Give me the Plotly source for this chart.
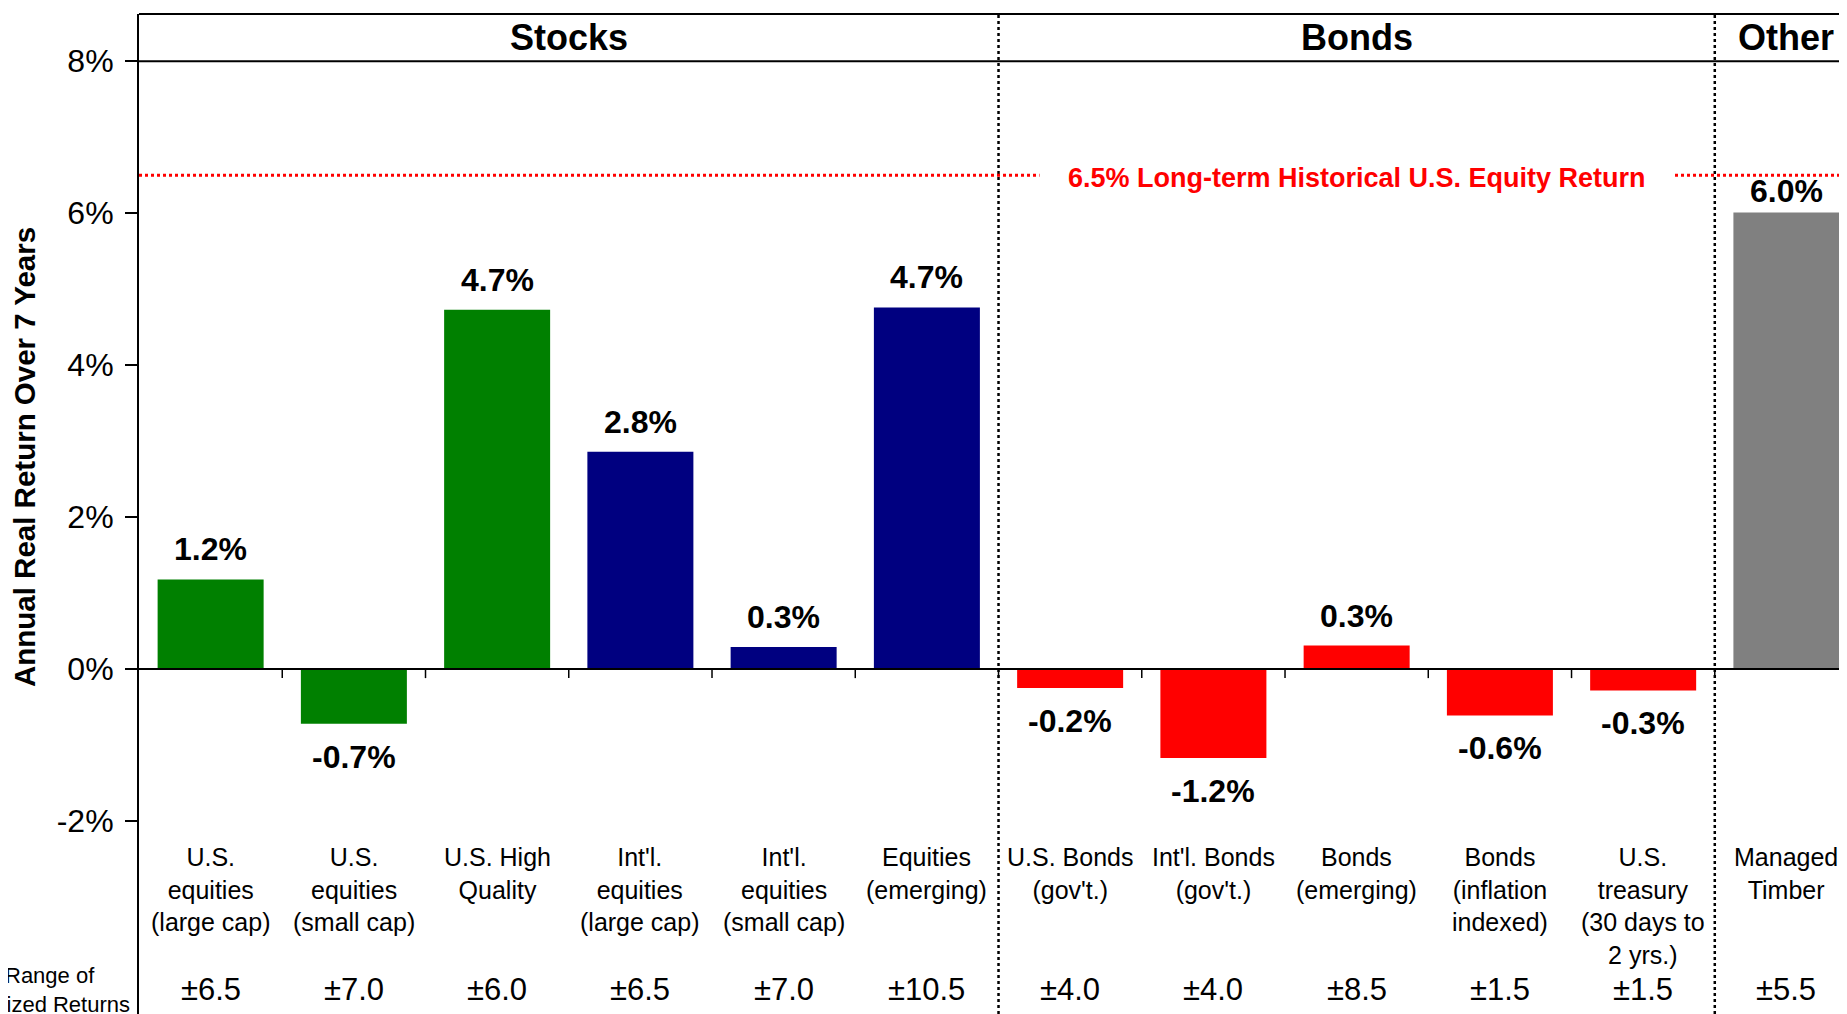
import plotly.graph_objects as go

# ---------------- data ----------------
categories = [
    "U.S.<br>equities<br>(large cap)",
    "U.S.<br>equities<br>(small cap)",
    "U.S. High<br>Quality",
    "Int'l.<br>equities<br>(large cap)",
    "Int'l.<br>equities<br>(small cap)",
    "Equities<br>(emerging)",
    "U.S. Bonds<br>(gov't.)",
    "Int'l. Bonds<br>(gov't.)",
    "Bonds<br>(emerging)",
    "Bonds<br>(inflation<br>indexed)",
    "U.S.<br>treasury<br>(30 days to<br>2 yrs.)",
    "Managed<br>Timber",
]
groups = ["Stocks"] * 6 + ["Bonds"] * 5 + ["Other"]
asset_types = ["US equity"] * 3 + ["Intl equity"] * 3 + ["Bond"] * 5 + ["Alternative"]
returns = [1.18, -0.72, 4.73, 2.86, 0.29, 4.76, -0.25, -1.17, 0.31, -0.61, -0.28, 6.01]
return_labels = ["1.2%", "-0.7%", "4.7%", "2.8%", "0.3%", "4.7%",
                 "-0.2%", "-1.2%", "0.3%", "-0.6%", "-0.3%", "6.0%"]
ranges = ["±6.5", "±7.0", "±6.0", "±6.5", "±7.0", "±10.5",
          "±4.0", "±4.0", "±8.5", "±1.5", "±1.5", "±5.5"]
benchmark = 6.5
benchmark_label = "6.5% Long-term Historical U.S. Equity Return"
y_ticks = [-2, 0, 2, 4, 6, 8]
y_tick_labels = ["-2%", "0%", "2%", "4%", "6%", "8%"]
y_title = "Annual Real Return Over 7 Years"
range_title = ["Range of", "Annualized Returns"]

# ---------------- style ----------------
FONT = "Liberation Sans, Arial, Helvetica, sans-serif"
type_colors = {"US equity": "#008000", "Intl equity": "#000080",
               "Bond": "#FF0000", "Alternative": "#808080"}
label_shift_override = {"Managed<br>Timber": 21}
Y_MIN, Y_MAX = -4.539, 8.622
X_MAX = 11.423

n = len(categories)
xs = list(range(n))

fig = go.Figure()
fig.add_trace(go.Bar(
    x=xs, y=returns,
    marker=dict(color=[type_colors[t] for t in asset_types], line=dict(width=0)),
    hoverinfo="skip", showlegend=False,
))

shapes = []
annotations = []

# frame lines
shapes.append(dict(type="line", xref="paper", yref="paper", x0=0, x1=1, y0=1, y1=1,
                   line=dict(color="black", width=2)))
shapes.append(dict(type="line", xref="paper", yref="y", x0=0, x1=1, y0=max(y_ticks), y1=max(y_ticks),
                   line=dict(color="black", width=2)))
shapes.append(dict(type="line", xref="paper", yref="y", x0=0, x1=1, y0=0, y1=0,
                   line=dict(color="black", width=2), layer="above"))
# category tick marks under zero line
for i in range(n - 1):
    shapes.append(dict(type="line", xref="x", yref="y", x0=i + 0.5, x1=i + 0.5,
                       ysizemode="pixel", yanchor=0, y0=0, y1=-9,
                       line=dict(color="black", width=1.5), layer="above"))
# group separators & headers
group_names = []
for g in groups:
    if g not in group_names:
        group_names.append(g)
for gi, g in enumerate(group_names):
    idx = [i for i, gg in enumerate(groups) if gg == g]
    center = (min(idx) + max(idx)) / 2
    annotations.append(dict(x=center, y=(max(y_ticks) + Y_MAX) / 2, xref="x", yref="y",
                            text="<b>%s</b>" % g, showarrow=False, yanchor="middle",
                            font=dict(family=FONT, size=36, color="black")))
    if gi > 0:
        shapes.append(dict(type="line", xref="x", yref="paper", x0=min(idx) - 0.5, x1=min(idx) - 0.5,
                           y0=0, y1=1, line=dict(color="black", width=2.5, dash="dot"), layer="above"))

# benchmark line
shapes.append(dict(type="line", xref="paper", yref="y", x0=0, x1=1, y0=benchmark, y1=benchmark,
                   line=dict(color="#FF0000", width=3, dash="dot")))
bonds_idx = [i for i, gg in enumerate(groups) if gg == "Bonds"]
annotations.append(dict(x=(min(bonds_idx) + max(bonds_idx)) / 2, y=benchmark, xref="x", yref="y",
                        text="<b>%s</b>" % benchmark_label, showarrow=False, yanchor="middle",
                        bgcolor="white", borderpad=28, yshift=-3,
                        font=dict(family=FONT, size=27, color="#FF0000")))

# bar value labels
for i, (v, lab) in enumerate(zip(returns, return_labels)):
    shift = label_shift_override.get(categories[i], 30)
    annotations.append(dict(x=i, y=v, xref="x", yref="y", text="<b>%s</b>" % lab,
                            showarrow=False, yanchor="middle",
                            yshift=shift if v >= 0 else -33,
                            font=dict(family=FONT, size=32, color="black")))
# category labels
for i, c in enumerate(categories):
    annotations.append(dict(x=i, y=-2.26, xref="x", yref="y", text=c, showarrow=False,
                            yanchor="top", align="center",
                            font=dict(family=FONT, size=25, color="black")))
# ranges
for i, r in enumerate(ranges):
    annotations.append(dict(x=i, y=-4.22, xref="x", yref="y", text=r, showarrow=False,
                            yanchor="middle", font=dict(family=FONT, size=31, color="black")))
annotations.append(dict(x=-0.0246, y=-4.03, xref="paper", yref="y", text=range_title[0],
                        showarrow=False, xanchor="right", yanchor="middle",
                        font=dict(family=FONT, size=22, color="black")))
annotations.append(dict(x=-0.0041, y=-4.41, xref="paper", yref="y", text=range_title[1],
                        showarrow=False, xanchor="right", yanchor="middle",
                        font=dict(family=FONT, size=22, color="black")))
# y title
annotations.append(dict(x=-0.0667, y=0.557, xref="paper", yref="paper", text="<b>%s</b>" % y_title,
                        showarrow=False, textangle=-90, xanchor="center", yanchor="middle",
                        font=dict(family=FONT, size=29.5, color="black")))

# the page body adds an 8px margin, so the figure is 8px smaller and its margins 8px tighter
fig.update_layout(
    width=1839, height=1006,
    margin=dict(l=131, r=0, t=6, b=0, pad=0),
    paper_bgcolor="white", plot_bgcolor="white",
    bargap=0.26,
    xaxis=dict(range=[-0.5, X_MAX], showticklabels=False, showgrid=False, zeroline=False,
               showline=False, ticks=""),
    yaxis=dict(range=[Y_MIN, Y_MAX], tickvals=y_ticks, ticktext=y_tick_labels,
               showgrid=False, zeroline=False, showline=True, linecolor="black", linewidth=2,
               ticks="outside", ticklen=12, tickwidth=2, tickcolor="black",
               ticklabelstandoff=5,
               tickfont=dict(family=FONT, size=32, color="black")),
    shapes=shapes, annotations=annotations,
    font=dict(family=FONT),
)

fig.write_html("out.html")
